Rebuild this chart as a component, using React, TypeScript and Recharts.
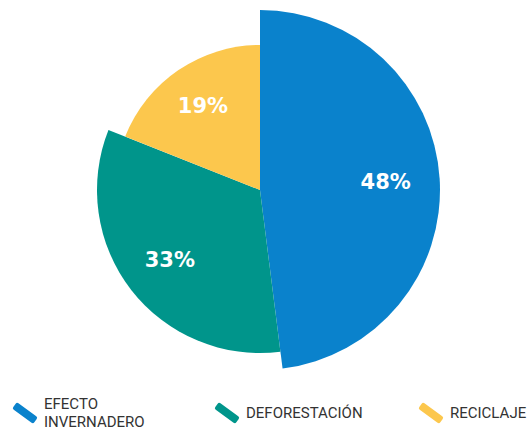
import { PieChart, Pie, Cell, Legend } from "recharts";

const categories = ["EFECTO INVERNADERO", "DEFORESTACIÓN", "RECICLAJE"];
const shares = [48, 33, 19];
const sliceColors = ["#0a82cc", "#00958b", "#fcc74d"];
const radii = [180, 163, 145];

const data = categories.map((name, i) => ({ name, value: shares[i] }));

const RADIAN = Math.PI / 180;

// one Pie per slice so each slice can keep its own outer radius
function makeLabel(only: number) {
  return (props: any) => {
    const { cx, cy, midAngle, outerRadius, index, value } = props;
    if (index !== only) return null;
    const r = outerRadius * 0.7;
    const x = cx + r * Math.cos(-midAngle * RADIAN);
    const y = cy + r * Math.sin(-midAngle * RADIAN);
    return (
      <text
        x={x}
        y={y}
        fill="#ffffff"
        textAnchor="middle"
        dominantBaseline="central"
        fontFamily="'DejaVu Sans', sans-serif"
        fontWeight={700}
        fontSize={21}
      >
        {`${value}%`}
      </text>
    );
  };
}

const legendX = [12, 214, 418];

function renderLegend() {
  return (
    <div style={{ position: "relative", width: 532, height: 36 }}>
      {categories.map((name, i) => {
        const words = name.split(" ");
        return (
          <div
            key={name}
            style={{
              position: "absolute",
              left: legendX[i],
              top: 0,
              height: 36,
              display: "flex",
              alignItems: "center",
            }}
          >
            <div
              style={{
                width: 26,
                height: 8,
                borderRadius: 2,
                background: sliceColors[i],
                transform: "rotate(36deg)",
                marginRight: 6,
              }}
            />
            <div
              style={{
                fontFamily: "Roboto, sans-serif",
                fontSize: 15,
                lineHeight: "18px",
                color: "#333333",
              }}
            >
              {words.map((w) => (
                <div key={w}>{w}</div>
              ))}
            </div>
          </div>
        );
      })}
    </div>
  );
}

export default function App() {
  return (
    <div
      style={{
        position: "fixed",
        left: 0,
        top: 0,
        width: 532,
        height: 430,
        background: "#ffffff",
        overflow: "hidden",
      }}
    >
      <PieChart width={532} height={430} margin={{ top: 0, right: 0, bottom: 0, left: 0 }}>
        {radii.map((r, k) => (
          <Pie
            key={k}
            data={data}
            dataKey="value"
            nameKey="name"
            cx={260}
            cy={190}
            outerRadius={r}
            startAngle={90}
            endAngle={-270}
            stroke="none"
            labelLine={false}
            label={makeLabel(k)}
            isAnimationActive={false}
            legendType="none"
          >
            {data.map((d, i) => (
              <Cell key={d.name} fill={i === k ? sliceColors[i] : "transparent"} />
            ))}
          </Pie>
        ))}
        <Legend
          content={renderLegend}
          wrapperStyle={{ position: "absolute", left: 0, top: 395, width: 532 }}
        />
      </PieChart>
    </div>
  );
}
